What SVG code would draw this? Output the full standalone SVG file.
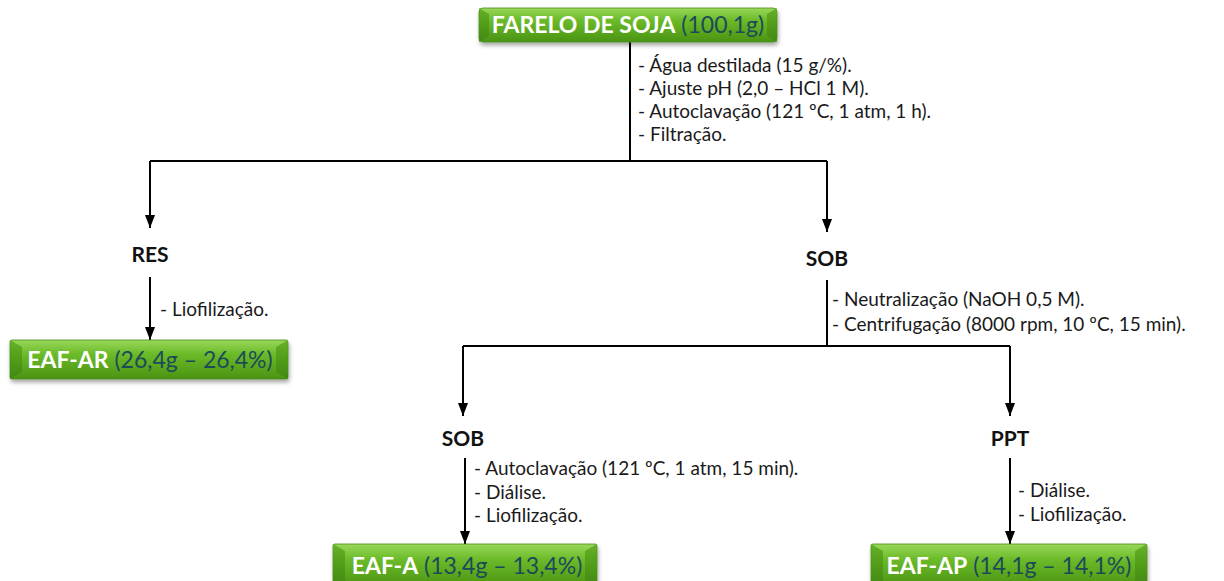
<svg xmlns="http://www.w3.org/2000/svg" width="1224" height="581" viewBox="0 0 1224 581">
<defs>
<linearGradient id="g" x1="0" y1="0" x2="0" y2="1">
<stop offset="0" stop-color="#9ad85a"/>
<stop offset="0.35" stop-color="#6cbb2a"/>
<stop offset="1" stop-color="#4a9412"/>
</linearGradient>
<linearGradient id="side" x1="0" y1="0" x2="0" y2="1">
<stop offset="0" stop-color="#5aa81c"/>
<stop offset="1" stop-color="#3f8510"/>
</linearGradient>
<filter id="sh" x="-5%" y="-20%" width="110%" height="160%">
<feGaussianBlur in="SourceAlpha" stdDeviation="2"/>
<feOffset dx="1" dy="3"/>
<feComponentTransfer><feFuncA type="linear" slope="0.35"/></feComponentTransfer>
<feMerge><feMergeNode/><feMergeNode in="SourceGraphic"/></feMerge>
</filter>
<marker id="ah" markerWidth="13" markerHeight="10" refX="13" refY="5" orient="auto" markerUnits="userSpaceOnUse" viewBox="0 0 13 10">
<path d="M0,0 L13,5 L0,10 Z" fill="#000"/>
</marker>
</defs>
<style>
.t{font-family:Lato,"Open Sans",sans-serif;font-size:19px;fill:#1a1a1a}
.h{font-family:Lato,"Open Sans",sans-serif;font-size:21px;font-weight:bold;fill:#111;text-anchor:middle}
.b{font-family:Lato,"Open Sans",sans-serif;font-size:23px}
.w{fill:#fff;font-weight:bold}
.d{fill:#1c4a5a}
.ln{stroke:#000;stroke-width:2;fill:none}
.box{fill:url(#g);stroke:#4a8a1a;stroke-width:0.8}
.bev{fill:url(#side);opacity:0.8}
</style>
<g id="connectors">
<path class="ln" d="M630,42 V161"/>
<path class="ln" d="M150,161 H827"/>
<path class="ln" d="M150,161 V228" marker-end="url(#ah)"/>
<path class="ln" d="M827,161 V232" marker-end="url(#ah)"/>
<path class="ln" d="M150,277 V340" marker-end="url(#ah)"/>
<path class="ln" d="M827,280 V346"/>
<path class="ln" d="M463,346 H1010"/>
<path class="ln" d="M463,346 V416" marker-end="url(#ah)"/>
<path class="ln" d="M1010,346 V416" marker-end="url(#ah)"/>
<path class="ln" d="M465,458 V544" marker-end="url(#ah)"/>
<path class="ln" d="M1010,458 V544" marker-end="url(#ah)"/>
</g>
<g id="farelo">
<g filter="url(#sh)">
<rect class="box" x="479" y="8" width="298" height="34" rx="4"/>
<polygon class="bev" points="479,8 489,14 489,36 479,42"/>
<polygon class="bev" points="777,8 767,14 767,36 777,42"/>
</g>
<text class="b" x="628" y="33" text-anchor="middle"><tspan class="w">FARELO DE SOJA</tspan> <tspan class="d">(100,1g)</tspan></text>
</g>
<g id="step1">
<text class="t" x="638" y="72">- Água destilada (15 g/%).</text>
<text class="t" x="638" y="95">- Ajuste pH (2,0 – HCl 1 M).</text>
<text class="t" x="638" y="118">- Autoclavação (121 ºC, 1 atm, 1 h).</text>
<text class="t" x="638" y="141">- Filtração.</text>
</g>
<g id="res">
<text class="h" x="150" y="262">RES</text>
<text class="t" x="160" y="316">- Liofilização.</text>
</g>
<g id="eaf-ar">
<g filter="url(#sh)">
<rect class="box" x="10" y="340" width="278" height="39" rx="2"/>
<polygon class="bev" points="10,340 22,347 22,372 10,379"/>
<polygon class="bev" points="288,340 276,347 276,372 288,379"/>
</g>
<text class="b" x="150" y="368" text-anchor="middle"><tspan class="w">EAF-AR</tspan> <tspan class="d">(26,4g – 26,4%)</tspan></text>
</g>
<g id="sob1">
<text class="h" x="827" y="266">SOB</text>
<text class="t" x="832" y="306">- Neutralização (NaOH 0,5 M).</text>
<text class="t" x="832" y="331">- Centrifugação (8000 rpm, 10 ºC, 15 min).</text>
</g>
<g id="sob2">
<text class="h" x="463" y="446">SOB</text>
<text class="t" x="474" y="475">- Autoclavação (121 ºC, 1 atm, 15 min).</text>
<text class="t" x="474" y="499">- Diálise.</text>
<text class="t" x="474" y="522">- Liofilização.</text>
</g>
<g id="ppt">
<text class="h" x="1010" y="446">PPT</text>
<text class="t" x="1018" y="497">- Diálise.</text>
<text class="t" x="1018" y="521">- Liofilização.</text>
</g>
<g id="eaf-a">
<g filter="url(#sh)">
<rect class="box" x="333" y="544" width="264" height="43" rx="2"/>
<polygon class="bev" points="333,544 345,551 345,587 333,587"/>
<polygon class="bev" points="597,544 585,551 585,587 597,587"/>
</g>
<text class="b" x="467" y="574" text-anchor="middle"><tspan class="w">EAF-A</tspan> <tspan class="d">(13,4g – 13,4%)</tspan></text>
</g>
<g id="eaf-ap">
<g filter="url(#sh)">
<rect class="box" x="871" y="544" width="276" height="43" rx="2"/>
<polygon class="bev" points="871,544 883,551 883,587 871,587"/>
<polygon class="bev" points="1147,544 1135,551 1135,587 1147,587"/>
</g>
<text class="b" x="1009" y="574" text-anchor="middle"><tspan class="w">EAF-AP</tspan> <tspan class="d">(14,1g – 14,1%)</tspan></text>
</g>
</svg>
